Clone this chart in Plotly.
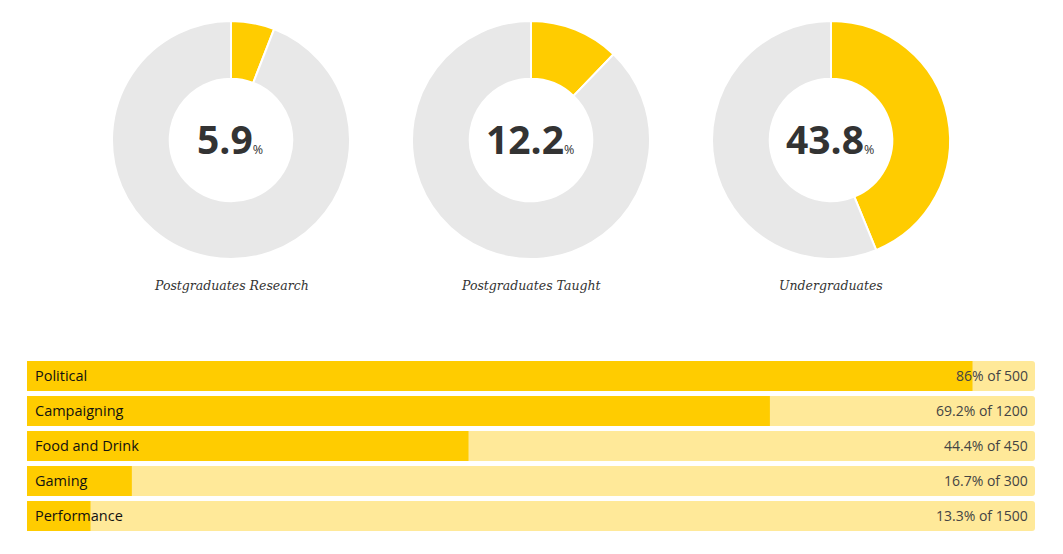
import plotly.graph_objects as go

# ---- data ----
donut_labels = ["Postgraduates Research", "Postgraduates Taught", "Undergraduates"]
donut_values = [5.9, 12.2, 43.8]

bar_categories = ["Political", "Campaigning", "Food and Drink", "Gaming", "Performance"]
bar_percent = [86, 69.2, 44.4, 16.7, 13.3]
bar_totals = [500, 1200, 450, 300, 1500]
bar_fill = [93.8, 73.7, 43.8, 10.4, 6.3]  # filled length as drawn in the picture

OX, OY = 8, 8          # page body margin
W, H = 1047, 538
YELLOW = "#FFCC00"
GREY = "#E8E8E8"
PALE = "#FFE999"


def px(x):
    return (x - OX) / W


def py(y):
    return 1 - (y - OY) / H


fig = go.Figure()

centers = [231, 531, 831]
R = 119
cy = 140
for i, (lab, val) in enumerate(zip(donut_labels, donut_values)):
    cx = centers[i]
    fig.add_trace(go.Pie(
        values=[val, 100 - val],
        labels=["yes", "no"],
        hole=0.515,
        sort=False,
        direction="clockwise",
        rotation=0,
        marker=dict(colors=[YELLOW, GREY], line=dict(color="white", width=2)),
        textinfo="none",
        hoverinfo="skip",
        showlegend=False,
        domain=dict(x=[px(cx - R), px(cx + R)], y=[py(cy + R), py(cy - R)]),
    ))
    fig.add_annotation(
        x=px(cx - 1), y=py(cy - 1), xref="paper", yref="paper",
        text=f"<b>{val:g}</b><span style='font-size:12.5px'>%</span>",
        showarrow=False, xanchor="center", yanchor="middle",
        font=dict(family="Open Sans", size=39, color="#333333"),
    )
    fig.add_annotation(
        x=px(cx), y=py(285), xref="paper", yref="paper",
        text=f"<i>{lab}</i>", showarrow=False, xanchor="center", yanchor="middle",
        font=dict(family="DejaVu Serif", size=12.5, color="#333333"),
    )

# bars
fig.add_trace(go.Bar(
    y=bar_categories, x=[100] * len(bar_categories), orientation="h",
    marker=dict(color=PALE, cornerradius=3, line=dict(width=0)),
    hoverinfo="skip", showlegend=False,
))
fig.add_trace(go.Bar(
    y=bar_categories, x=bar_fill, orientation="h",
    marker=dict(color=YELLOW, line=dict(width=0)),
    hoverinfo="skip", showlegend=False,
))

for cat, p, t in zip(bar_categories, bar_percent, bar_totals):
    fig.add_annotation(x=0, y=cat, xref="x", yref="y", text=cat, showarrow=False,
                       xanchor="left", yanchor="middle", xshift=6, yshift=1,
                       font=dict(family="Open Sans", size=14.5, color="#111111"))
    fig.add_annotation(x=100, y=cat, xref="x", yref="y", text=f"{p:g}% of {t}",
                       showarrow=False, xanchor="right", yanchor="middle", xshift=-5, yshift=1,
                       font=dict(family="Open Sans", size=14, color="#444444"))

fig.update_layout(
    width=W, height=H,
    margin=dict(l=0, r=0, t=0, b=0),
    paper_bgcolor="white", plot_bgcolor="white",
    barmode="overlay", bargap=0.143,
    xaxis=dict(domain=[px(27), px(1035)], range=[0, 100], visible=False, fixedrange=True),
    yaxis=dict(domain=[py(533.5), py(358.5)], range=[4.5, -0.5], visible=False,
               categoryorder="array", categoryarray=bar_categories, fixedrange=True),
    showlegend=False,
)

fig.write_html("out.html")
